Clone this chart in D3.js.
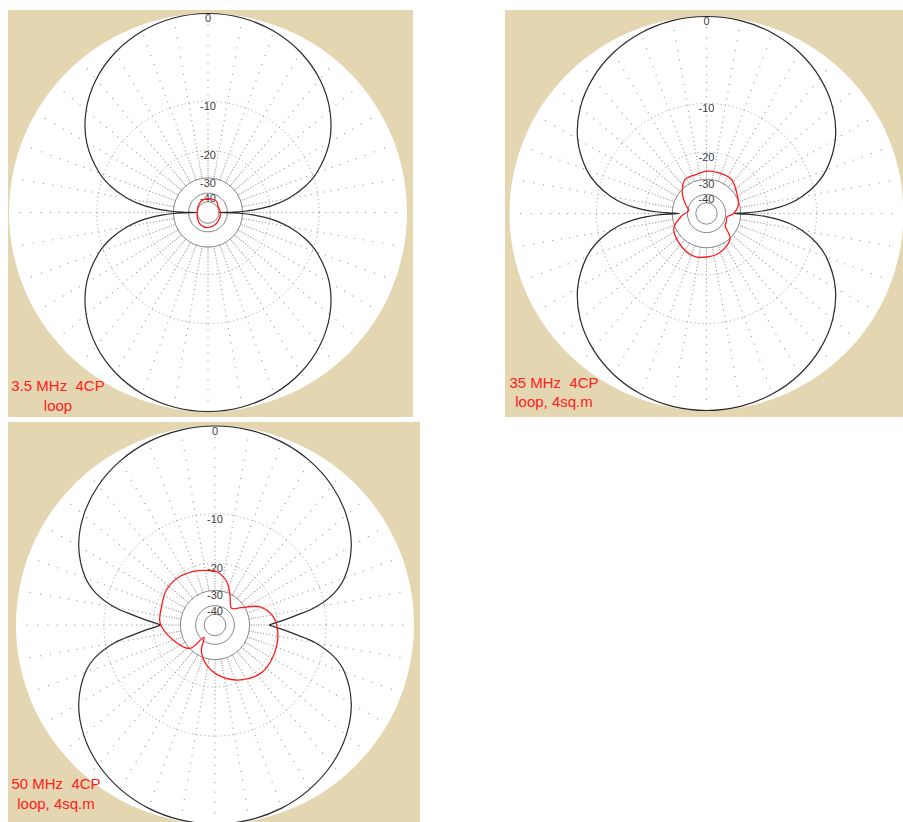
<!DOCTYPE html>
<html><head><meta charset="utf-8">
<script src="https://cdn.jsdelivr.net/npm/d3@7"></script>
<style>body{margin:0;background:#fff} svg{display:block} text{white-space:pre}</style>
</head><body>
<svg id="chart" width="903" height="822"></svg>
<script>
// Azimuth (degrees clockwise from top) for the main-polarisation traces
const mainAngles = [0,10,20,30,40,50,60,70,75,80,83,85,87,88,89,90,91,92,93,95,97,100,105,110,120,130,140,150,160,170,
                    180,190,200,210,220,230,240,250,255,260,263,265,267,268,269,270,271,272,273,275,277,280,285,290,300,310,320,330,340,350];

// Main polarisation, dB (black)
const main35 = [0,-0.13,-0.54,-1.25,-2.32,-3.84,-6.02,-9.32,-11.74,-15.21,-18.28,-21.19,-25.63,-29.14,-35.16,-50,-35.16,-29.14,-25.63,-21.19,-18.28,-15.21,-11.74,-9.32,-6.02,-3.84,-2.32,-1.25,-0.54,-0.13,
                0,-0.13,-0.54,-1.25,-2.32,-3.84,-6.02,-9.32,-11.74,-15.21,-18.28,-21.19,-25.63,-29.14,-35.16,-50,-35.16,-29.14,-25.63,-21.19,-18.28,-15.21,-11.74,-9.32,-6.02,-3.84,-2.32,-1.25,-0.54,-0.13];
const main350 = [0,-0.1,-0.43,-1.0,-1.86,-3.07,-4.82,-7.46,-9.4,-12.2,-14.6,-17.0,-20.5,-23.3,-28,-34,-28,-23.3,-20.5,-17.0,-14.6,-12.2,-9.4,-7.46,-4.82,-3.07,-1.86,-1.0,-0.43,-0.1,
                 0,-0.1,-0.43,-1.0,-1.86,-3.07,-4.82,-7.46,-9.4,-12.2,-14.6,-17.0,-20.5,-23.3,-28,-34,-28,-23.3,-20.5,-17.0,-14.6,-12.2,-9.4,-7.46,-4.82,-3.07,-1.86,-1.0,-0.43,-0.1];
const main500 = [0,-0.09,-0.36,-0.84,-1.55,-2.57,-4.03,-6.3,-8.2,-11.5,-15,-17.2,-19.4,-20.5,-21.5,-22.3,-21.5,-20.5,-19.4,-17.2,-15,-11.5,-8.2,-6.3,-4.03,-2.57,-1.55,-0.84,-0.36,-0.09,
                 0,-0.09,-0.36,-0.84,-1.55,-2.57,-4.03,-6.3,-8.2,-11.5,-15,-17.2,-19.4,-20.5,-21.5,-22.3,-21.5,-20.5,-19.4,-17.2,-15,-11.5,-8.2,-6.3,-4.03,-2.57,-1.55,-0.84,-0.36,-0.09];

// Cross polarisation (red)
const crossAngles35 = [0,25,40,60,90,120,150,180,210,240,270,300,330];
const cross35 = [-45.8,-45.5,-45.6,-48.5,-47.5,-47,-45.5,-44.3,-45,-48,-50,-49,-46.5];

const crossAngles350 = [0,16,36,55,76,90,100,112,123,137,164,194,215,245,265,279,294,311,328,346];
const cross350 = [-26.4,-26.3,-26.4,-28.8,-30.8,-34,-38.8,-38,-37.5,-29.8,-26.6,-25.5,-26.6,-29.1,-35.7,-41.0,-36.8,-31.1,-27.3,-27.2];

const crossAngles500 = [2,15,25,45,56,68,82,98,119,136,155,174,192,208,222,227,250,272,289,306,324,343,355];
const cross500 = [-22.6,-25.5,-29.8,-36.6,-31.9,-24.2,-20.9,-19.6,-18.9,-18.8,-20.4,-23.2,-27.2,-33.0,-42.7,-30.2,-25.8,-22.1,-21.6,-20.6,-20.6,-21.5,-22.2];

// Grid levels
const ringLabels = ["0","-10","-20","-30","-40"];
const ringLevels = [0,-10,-20,-30,-40];
const dottedRings = [-10,-20];
const solidRings = [-30,-40,-50];
const spokeAngles = d3.range(0, 360, 10);
const spokeDotLevels = d3.range(-1, -31, -1);

const captions = [
  ["3.5 MHz  4CP", "loop"],
  ["35 MHz  4CP", "loop, 4sq.m"],
  ["50 MHz  4CP", "loop, 4sq.m"]
];

const panels = [
  {x:8,   y:10,  w:405, h:407, cx:208,   cy:212.5, R:199, main:main35,  cAng:crossAngles35,  cross:cross35,  capX:58,  capY:[391,411]},
  {x:505, y:10,  w:398, h:407, cx:706.5, cy:213.5, R:197, main:main350, cAng:crossAngles350, cross:cross350, capX:554, capY:[388,407]},
  {x:8,   y:422, w:412, h:400, cx:215,   cy:625,   R:199, main:main500, cAng:crossAngles500, cross:cross500, capX:56,  capY:[789,809]}
];

const svg = d3.select("#chart");
const toRad = d => d * Math.PI / 180;

panels.forEach((p, i) => {
  // ARRL log scale: radius shrinks by 0.89 for each 2 dB
  const rScale = d3.scaleLinear().domain([0, 1]).range([0, p.R]);
  const rOf = dB => rScale(Math.pow(0.89, -dB / 2));

  const g = svg.append("g");
  g.append("rect").attr("x", p.x).attr("y", p.y).attr("width", p.w).attr("height", p.h).attr("fill", "#e3d6b0");
  const c = g.append("g").attr("transform", `translate(${p.cx},${p.cy})`);
  c.append("circle").attr("r", p.R).attr("fill", "#ffffff");

  // radial dotted spokes: one dot per dB
  spokeAngles.forEach(a => {
    spokeDotLevels.forEach(l => {
      const r = rOf(l);
      c.append("rect")
        .attr("x", r * Math.sin(toRad(a)) - 0.55)
        .attr("y", -r * Math.cos(toRad(a)) - 0.55)
        .attr("width", 1.1).attr("height", 1.1)
        .attr("fill", "#9c9c9c");
    });
  });

  dottedRings.forEach(l => {
    c.append("circle").attr("r", rOf(l)).attr("fill", "none")
      .attr("stroke", "#999").attr("stroke-width", 1).attr("stroke-dasharray", "1,3");
  });
  solidRings.forEach(l => {
    c.append("circle").attr("r", rOf(l)).attr("fill", "none")
      .attr("stroke", "#888").attr("stroke-width", 1);
  });

  ringLevels.forEach((l, k) => {
    c.append("text").attr("x", 0).attr("y", -rOf(l) + 6)
      .attr("text-anchor", "middle").attr("dominant-baseline", "middle")
      .attr("font-family", "Liberation Sans, Arial, sans-serif").attr("font-size", 11)
      .attr("fill", "#3c3c3c").text(ringLabels[k]);
  });

  const line = d3.lineRadial().curve(d3.curveCatmullRomClosed.alpha(0.5));

  const mainPts = mainAngles.map((a, k) => [toRad(a), rOf(p.main[k])]);
  c.append("path").attr("d", line(mainPts)).attr("fill", "none")
    .attr("stroke", "#2a2a2a").attr("stroke-width", 1.2);

  const crossPts = p.cAng.map((a, k) => [toRad(a), rOf(p.cross[k])]);
  c.append("path").attr("d", line(crossPts)).attr("fill", "none")
    .attr("stroke", "#ff1a1a").attr("stroke-width", 1.3);

  captions[i].forEach((t, k) => {
    g.append("text").attr("x", p.capX).attr("y", p.capY[k])
      .attr("text-anchor", "middle").attr("xml:space", "preserve")
      .attr("font-family", "Liberation Sans, Arial, sans-serif").attr("font-size", 15)
      .attr("fill", "#ff2020").text(t);
  });
});
</script>
</body></html>
